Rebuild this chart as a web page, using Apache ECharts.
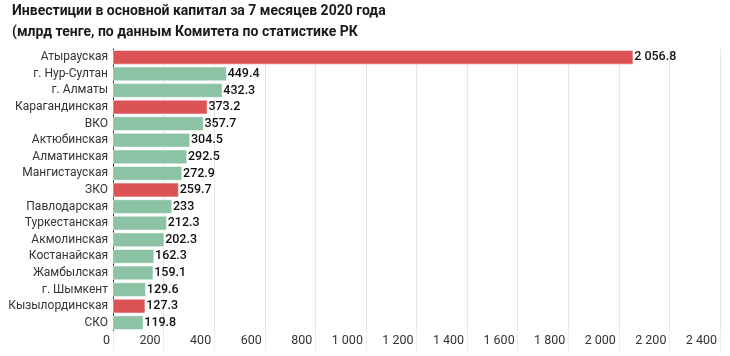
<!DOCTYPE html>
<html>
<head>
<meta charset="utf-8">
<script src="https://cdn.jsdelivr.net/npm/echarts@6/dist/echarts.min.js"></script>
<style>
html,body{margin:0;padding:0;background:#fff;}
#chart{width:730px;height:356px;}
</style>
</head>
<body>
<div id="chart"></div>
<script>
const titleLines = ["Инвестиции в основной капитал за 7 месяцев 2020 года", "(млрд тенге, по данным Комитета по статистике РК"];
const categories = ["Атырауская","г. Нур-Султан","г. Алматы","Карагандинская","ВКО","Актюбинская","Алматинская","Мангистауская","ЗКО","Павлодарская","Туркестанская","Акмолинская","Костанайская","Жамбылская","г. Шымкент","Кызылординская","СКО"];
const values = [2056.8,449.4,432.3,373.2,357.7,304.5,292.5,272.9,259.7,233,212.3,202.3,162.3,159.1,129.6,127.3,119.8];
const highlighted = ["Атырауская","Карагандинская","ЗКО","Кызылординская"];
const RED = "#dc5356", GREEN = "#8dc3a5";

function fmt(v){
  const parts = String(v).split(".");
  parts[0] = parts[0].replace(/\B(?=(\d{3})+(?!\d))/g, " ");
  return parts.join(".");
}

const chart = echarts.init(document.getElementById('chart'));
chart.setOption({
  animation:false,
  textStyle:{fontFamily:"Roboto"},
  title:{
    text: titleLines.join("\n"),
    left: 7, top: -4,
    textStyle:{fontFamily:"Roboto",fontSize:14,fontWeight:"bold",color:"#1a1a1a",lineHeight:21}
  },
  grid:{left:113,right:10,top:49,bottom:25,containLabel:false},
  xAxis:{
    type:'value', min:0, max:2400, interval:200,
    axisLine:{show:false},
    axisTick:{show:true,length:20,lineStyle:{color:"#ececec",width:1}},
    splitLine:{lineStyle:{color:"#e6e6e6",width:1}},
    axisLabel:{
      align:'right', margin:3, color:"#333", fontSize:12.5, fontFamily:"Roboto",
      padding:[0,3,0,0],
      formatter:(v)=>fmt(v)
    }
  },
  yAxis:{
    type:'category', data:categories, inverse:true,
    axisLine:{show:true,lineStyle:{color:"#333",width:1}},
    axisTick:{show:false},
    axisLabel:{interval:0,color:"#333",fontSize:12,margin:5,fontFamily:"Roboto"}
  },
  series:[{
    type:'bar',
    barCategoryGap:'14%',
    data: values.map((v,i)=>({value:v,itemStyle:{color: highlighted.includes(categories[i]) ? RED : GREEN}})),
    itemStyle:{borderColor:"#fff",borderWidth:0.5},
    label:{show:true,position:'right',distance:1,color:"#111",fontSize:12.5,fontFamily:"Roboto",fontWeight:500,formatter:(p)=>fmt(p.value)}
  }]
});
</script>
</body>
</html>
